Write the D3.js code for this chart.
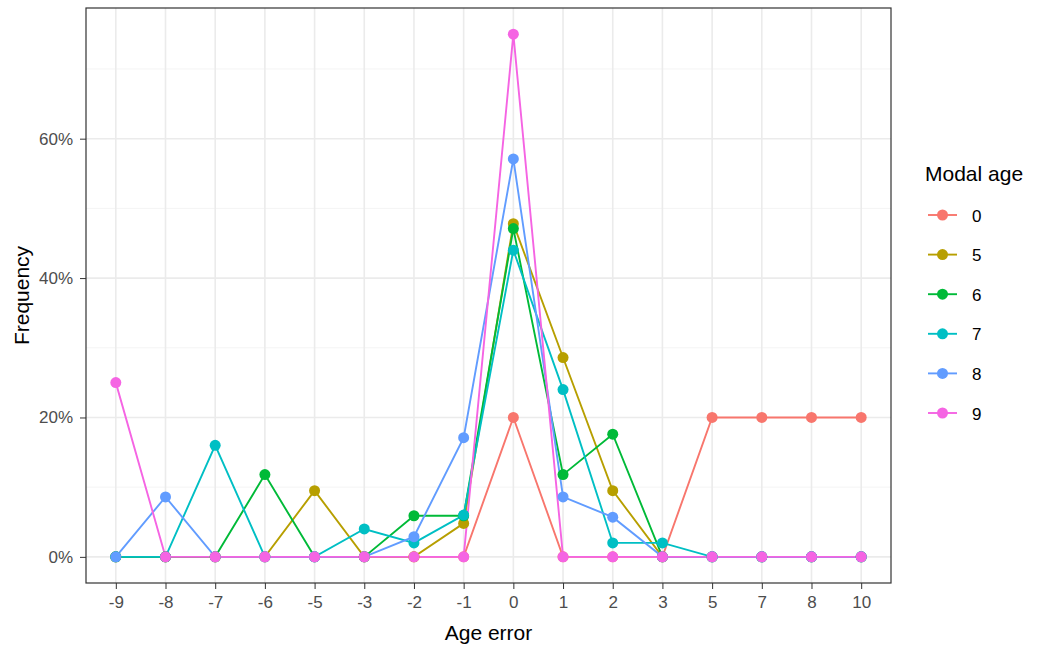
<!DOCTYPE html>
<html>
<head>
<meta charset="utf-8">
<script src="https://cdn.jsdelivr.net/npm/d3@7"></script>
<style>
  body { margin: 0; background: #fff; }
  svg text { font-family: "Liberation Sans", Arial, sans-serif; }
  .axis text { fill: #4d4d4d; font-size: 17px; }
  .axis line { stroke: #333; }
  .axis path { display: none; }
  .title { fill: #000; font-size: 21px; }
</style>
</head>
<body>
<svg id="chart" width="1037" height="648"></svg>
<script>
// age error categories (x axis, discrete)
var ageErrors = ["-9", "-8", "-7", "-6", "-5", "-3", "-2", "-1", "0", "1", "2", "3", "5", "7", "8", "10"];

// modal age groups
var modalAges = ["0", "5", "6", "7", "8", "9"];
var colors = ["#F8766D", "#B79F00", "#00BA38", "#00BFC4", "#619CFF", "#F564E3"];

// frequency per age error, one array per modal age
var freq0 = [0, 0, 0, 0, 0, 0, 0, 0, 0.20, 0, 0, 0, 0.20, 0.20, 0.20, 0.20];
var freq5 = [0, 0, 0, 0, 0.095, 0, 0, 0.048, 0.478, 0.286, 0.095, 0, 0, 0, 0, 0];
var freq6 = [0, 0, 0, 0.118, 0, 0, 0.059, 0.059, 0.471, 0.118, 0.176, 0, 0, 0, 0, 0];
var freq7 = [0, 0, 0.16, 0, 0, 0.04, 0.02, 0.06, 0.44, 0.24, 0.02, 0.02, 0, 0, 0, 0];
var freq8 = [0, 0.086, 0, 0, 0, 0, 0.029, 0.171, 0.571, 0.086, 0.057, 0, 0, 0, 0, 0];
var freq9 = [0.25, 0, 0, 0, 0, 0, 0, 0, 0.75, 0, 0, 0, 0, 0, 0, 0];

var yTicks = [0, 0.2, 0.4, 0.6];
var yMinor = [0.1, 0.3, 0.5, 0.7];

var allFreq = [freq0, freq5, freq6, freq7, freq8, freq9];
var series = modalAges.map(function(m, i) {
  return {
    key: m,
    color: colors[i],
    values: ageErrors.map(function(a, j) { return { x: a, y: allFreq[i][j] }; })
  };
});

var svg = d3.select("#chart");
var margin = { left: 86, right: 146, top: 8, bottom: 65 };
var width = 1037 - margin.left - margin.right,
    height = 648 - margin.top - margin.bottom;

var g = svg.append("g")
  .attr("transform", "translate(" + margin.left + "," + margin.top + ")");

var x = d3.scalePoint()
  .domain(ageErrors)
  .range([0, width])
  .padding(0.6);

var maxY = d3.max(allFreq, function(a) { return d3.max(a); });
var pad = maxY * 0.05;
var y = d3.scaleLinear()
  .domain([-pad, maxY + pad])
  .range([height, 0]);

// grid
g.selectAll(".minor")
  .data(yMinor)
  .enter().append("line")
  .attr("x1", 0).attr("x2", width)
  .attr("y1", function(d) { return y(d); })
  .attr("y2", function(d) { return y(d); })
  .attr("stroke", "#f4f4f4")
  .attr("stroke-width", 1);

g.selectAll(".majory")
  .data(yTicks)
  .enter().append("line")
  .attr("x1", 0).attr("x2", width)
  .attr("y1", function(d) { return y(d); })
  .attr("y2", function(d) { return y(d); })
  .attr("stroke", "#ebebeb")
  .attr("stroke-width", 1.6);

g.selectAll(".majorx")
  .data(ageErrors)
  .enter().append("line")
  .attr("x1", function(d) { return x(d); })
  .attr("x2", function(d) { return x(d); })
  .attr("y1", 0).attr("y2", height)
  .attr("stroke", "#ebebeb")
  .attr("stroke-width", 1.6);

// lines
var line = d3.line()
  .x(function(d) { return x(d.x); })
  .y(function(d) { return y(d.y); });

g.selectAll(".series")
  .data(series)
  .enter().append("path")
  .attr("d", function(d) { return line(d.values); })
  .attr("fill", "none")
  .attr("stroke", function(d) { return d.color; })
  .attr("stroke-width", 1.9);

// points on top of all lines
series.forEach(function(s) {
  g.selectAll(null)
    .data(s.values)
    .enter().append("circle")
    .attr("cx", function(d) { return x(d.x); })
    .attr("cy", function(d) { return y(d.y); })
    .attr("r", 5.5)
    .attr("fill", s.color);
});

// panel border
g.append("rect")
  .attr("width", width).attr("height", height)
  .attr("fill", "none")
  .attr("stroke", "#333")
  .attr("stroke-width", 1.2);

// axes
g.append("g")
  .attr("class", "axis")
  .attr("transform", "translate(0," + height + ")")
  .call(d3.axisBottom(x).tickSizeOuter(0).tickSizeInner(6).tickPadding(7));

g.append("g")
  .attr("class", "axis")
  .call(d3.axisLeft(y).tickValues(yTicks).tickFormat(d3.format(".0%"))
    .tickSizeOuter(0).tickSizeInner(6).tickPadding(7));

// axis titles
svg.append("text")
  .attr("class", "title")
  .attr("x", margin.left + width / 2)
  .attr("y", 640)
  .attr("text-anchor", "middle")
  .text("Age error");

svg.append("text")
  .attr("class", "title")
  .attr("transform", "translate(29," + (margin.top + height / 2) + ") rotate(-90)")
  .attr("text-anchor", "middle")
  .text("Frequency");

// legend
var legend = svg.append("g").attr("transform", "translate(925,0)");
legend.append("text")
  .attr("class", "title")
  .attr("x", 0).attr("y", 181)
  .text("Modal age");

var item = legend.selectAll(".item")
  .data(series)
  .enter().append("g")
  .attr("transform", function(d, i) { return "translate(0," + (215 + i * 39.6) + ")"; });

item.append("line")
  .attr("x1", 3).attr("x2", 32)
  .attr("stroke", function(d) { return d.color; })
  .attr("stroke-width", 1.9);

item.append("circle")
  .attr("cx", 17.5).attr("r", 5.5)
  .attr("fill", function(d) { return d.color; });

item.append("text")
  .attr("x", 47).attr("y", 6.5)
  .style("font-size", "17px")
  .attr("fill", "#000")
  .text(function(d) { return d.key; });
</script>
</body>
</html>
